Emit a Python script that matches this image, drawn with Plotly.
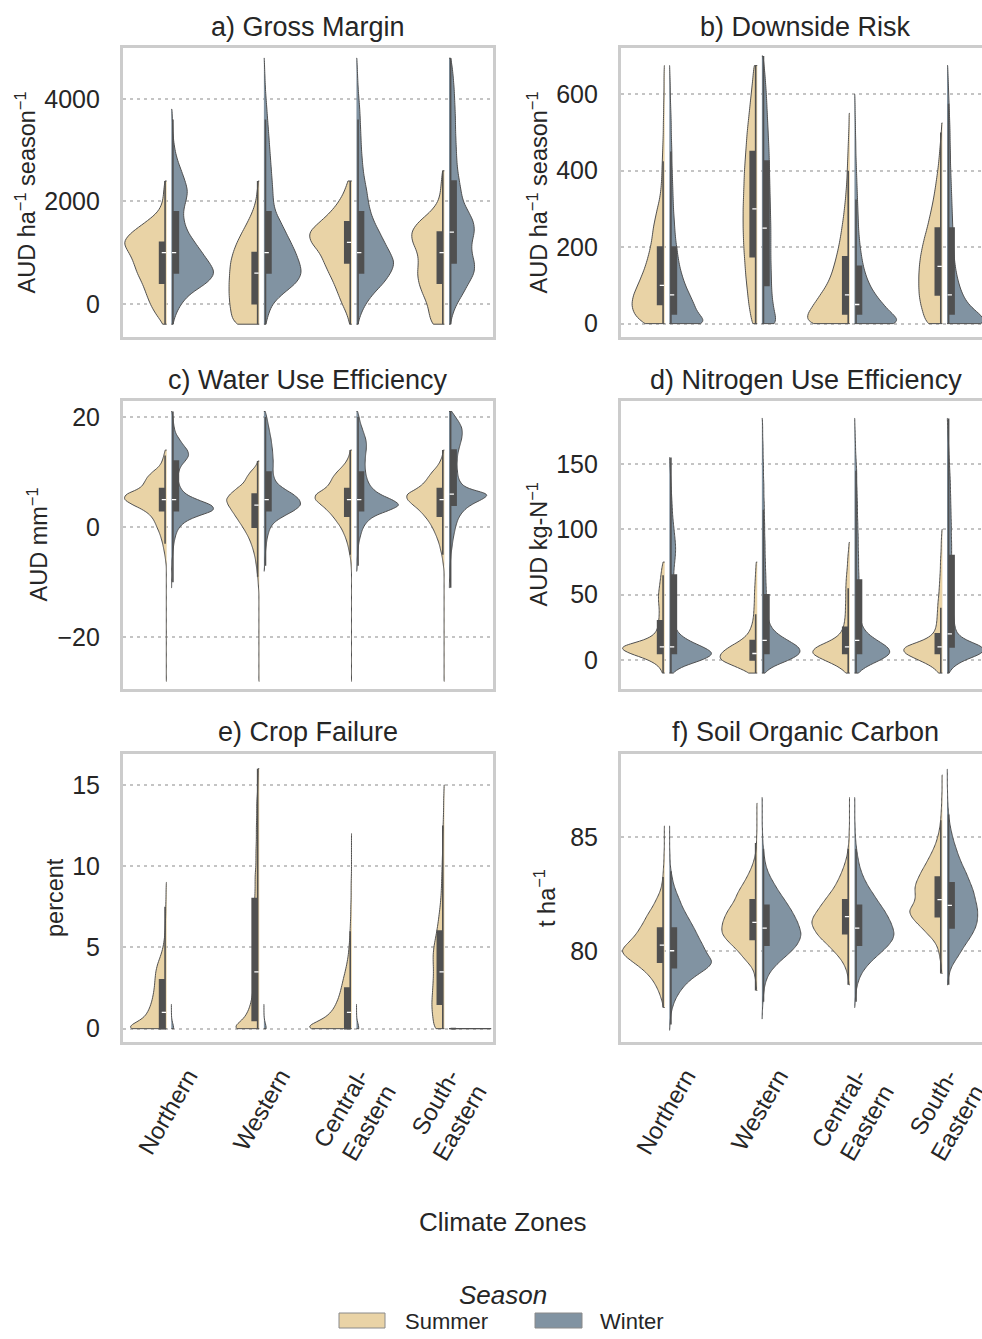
import numpy as np
import plotly.graph_objects as go

ZONES = ["Northern", "Western", "Central-Eastern", "South-Eastern"]
ZONE_LABELS = ["Northern", "Western", "Central-<br>Eastern", "South-<br>Eastern"]
SEASONS = ["Summer", "Winter"]

# ---------------------------------------------------------------------------
# Distributions: for each panel a grid of value levels and,
# per zone, the relative density (violin half-width) observed at each level.
# ---------------------------------------------------------------------------

# a) Gross Margin (AUD ha-1 season-1)
GM_LEVELS = [-400, -200, 0, 200, 400, 600, 800, 1000, 1200, 1400, 1600, 1800, 2000, 2200,
             2400, 2600, 2800, 3000, 3200, 3400, 3600, 3800, 4000, 4200, 4400, 4600, 4800]
GM_SUMMER = {
    "Northern":        [8, 30, 45, 55, 65, 80, 88, 100, 122, 95, 55, 20, 10, 8, 5],
    "Western":         [80, 85, 90, 92, 92, 90, 88, 80, 68, 52, 35, 20, 10, 6, 3],
    "Central-Eastern": [5, 12, 25, 35, 45, 58, 70, 80, 105, 112, 80, 52, 32, 18, 10],
    "South-Eastern":   [35, 40, 45, 58, 68, 72, 68, 70, 85, 90, 70, 35, 15, 10, 8, 5],
}
GM_WINTER = {
    "Northern":        [4, 12, 27, 50, 100, 125, 105, 85, 65, 45, 35, 32, 40, 47, 38, 28, 17,
                        10, 6, 4, 3, 2],
    "Western":         [5, 12, 22, 50, 88, 103, 95, 85, 72, 58, 45, 30, 25, 24, 22, 20, 18, 16,
                        14, 12, 10, 8, 6, 4, 3, 2, 1],
    "Central-Eastern": [3, 10, 22, 40, 65, 82, 93, 80, 67, 55, 42, 33, 28, 25, 20, 16, 14, 12,
                        11, 10, 9, 8, 6, 4, 3, 2, 1],
    "South-Eastern":   [3, 8, 18, 33, 45, 60, 60, 52, 52, 60, 58, 45, 32, 28, 24, 20, 18, 17,
                        16, 15, 15, 14, 13, 12, 10, 8, 4],
}

# b) Downside Risk (AUD ha-1 season-1)
DR_LEVELS = [0, 25, 50, 75, 100, 125, 150, 175, 200, 225, 250, 275, 300, 325, 350, 375, 400,
             425, 450, 475, 500, 525, 550, 575, 600, 625, 650, 675, 700]
DR_SUMMER = {
    "Northern":        [65, 92, 99, 93, 80, 68, 57, 49, 42, 37, 34, 28, 22, 15, 11, 9, 8, 7, 6,
                        5, 4, 4, 3, 3, 2, 2, 2, 1],
    "Western":         [15, 20, 25, 28, 31, 34, 36, 38, 40, 41, 42, 42, 42, 41, 40, 39, 38, 36,
                        34, 32, 30, 27, 24, 21, 18, 15, 12, 10],
    "Central-Eastern": [125, 118, 100, 82, 64, 52, 44, 37, 31, 26, 22, 18, 15, 12, 10, 8, 7, 6,
                        5, 4, 3, 2, 2],
    "South-Eastern":   [60, 70, 80, 86, 87, 87, 85, 81, 74, 66, 56, 48, 40, 33, 27, 22, 17, 13,
                        10, 7, 4, 2],
}
DR_WINTER = {
    "Northern":        [130, 88, 78, 64, 50, 40, 32, 27, 23, 19, 17, 15, 13, 12, 11, 10, 9, 8,
                        8, 7, 6, 6, 5, 4, 3, 3, 2, 1],
    "Western":         [70, 58, 50, 45, 43, 42, 41, 40, 40, 40, 40, 39, 38, 37, 36, 35, 34, 33,
                        32, 30, 28, 26, 24, 22, 20, 17, 14, 10, 5],
    "Central-Eastern": [150, 110, 85, 62, 45, 34, 26, 21, 17, 14, 12, 11, 10, 9, 8, 7, 6, 5, 4,
                        4, 3, 3, 2, 2, 1],
    "South-Eastern":   [130, 95, 62, 46, 36, 29, 24, 21, 19, 18, 17, 16, 15, 14, 13, 12, 11, 10,
                        10, 9, 9, 8, 7, 6, 5, 4, 3, 2],
}

# c) Water Use Efficiency (AUD mm-1), levels -28 ... 21
WUE_LEVELS = list(range(-28, 22))
WUE_SUMMER = {
    "Northern":        [1] * 22 + [3, 5, 8, 11, 15, 20, 27, 33, 42, 60, 92, 120, 115, 72, 62,
                                   55, 40, 20, 12, 8, 4],
    "Western":         [1] * 17 + [2, 3, 4, 6, 8, 10, 13, 17, 22, 28, 36, 45, 55, 65, 75, 85,
                                   92, 80, 62, 42, 35, 25, 10, 3],
    "Central-Eastern": [1] * 21 + [2, 3, 6, 9, 13, 18, 25, 33, 45, 57, 72, 90, 112, 110, 78,
                                   65, 58, 45, 28, 15, 8, 4],
    "South-Eastern":   [1] * 21 + [3, 5, 8, 12, 16, 22, 29, 37, 47, 60, 75, 95, 115, 118, 82,
                                   62, 50, 38, 22, 12, 6, 3],
}
WUE_WINTER = {
    "Northern":        [0] * 17 + [1, 1, 1, 1, 1, 2, 4, 5, 7, 10, 14, 22, 37, 70, 122, 115, 70,
                                   38, 26, 20, 18, 20, 25, 38, 50, 45, 32, 22, 12, 8, 6, 4, 2],
    "Western":         [0] * 20 + [1, 2, 3, 4, 5, 7, 9, 13, 18, 30, 55, 85, 105, 100, 82, 55,
                                   35, 28, 25, 26, 26, 25, 24, 22, 20, 17, 14, 11, 8, 4],
    "Central-Eastern": [0] * 20 + [1, 2, 2, 3, 4, 6, 9, 13, 18, 28, 45, 85, 122, 95, 60, 42,
                                   32, 27, 24, 23, 23, 24, 26, 27, 25, 20, 15, 10, 7, 3],
    "South-Eastern":   [0] * 17 + [1, 1, 2, 2, 3, 4, 5, 7, 9, 11, 14, 17, 21, 27, 38, 55, 85,
                                   112, 45, 30, 24, 22, 21, 21, 22, 25, 29, 33, 35, 34, 27,
                                   17, 7],
}

# d) Nitrogen Use Efficiency (AUD kg-N-1)
NUE_LEVELS = [-10, -5, 0, 5, 10, 15, 20, 25, 30, 35, 40, 45, 50, 55, 60, 65, 70, 75, 80, 85,
              90, 95, 100, 105, 110, 115, 120, 125, 130, 135, 140, 145, 150, 155, 160, 165,
              170, 175, 180, 185]
NUE_SUMMER = {
    "Northern":        [5, 12, 35, 85, 120, 45, 22, 16, 14, 13, 13, 15, 15, 13, 11, 9, 7, 4],
    "Western":         [20, 60, 110, 105, 80, 45, 25, 17, 12, 10, 9, 8, 8, 7, 6, 5, 4, 3],
    "Central-Eastern": [8, 30, 70, 110, 95, 48, 25, 17, 14, 12, 12, 11, 11, 11, 10, 9, 7, 6, 5,
                        3, 2],
    "South-Eastern":   [8, 25, 60, 100, 105, 45, 22, 16, 14, 13, 12, 11, 9, 8, 7, 6, 5, 5, 4, 3,
                        3, 2, 1],
}
NUE_WINTER = {
    "Northern":        [8, 35, 100, 140, 100, 55, 28, 17, 14, 12, 11, 11, 11, 11, 12, 13, 14,
                        16, 18, 19, 18, 16, 14, 12, 10, 9, 8, 7, 6, 5, 4, 3, 2, 1],
    "Western":         [5, 25, 70, 100, 95, 65, 38, 23, 17, 14, 13, 12, 11, 11, 10, 10, 9, 9, 8,
                        8, 8, 7, 7, 7, 6, 6, 6, 5, 5, 5, 4, 4, 4, 3, 3, 3, 2, 2, 2, 1],
    "Central-Eastern": [8, 30, 70, 100, 90, 60, 35, 22, 17, 15, 14, 13, 13, 12, 12, 12, 11, 11,
                        11, 10, 10, 10, 9, 9, 8, 8, 8, 7, 7, 6, 6, 6, 5, 4, 3, 3, 2, 2, 1, 1],
    "South-Eastern":   [5, 20, 55, 120, 125, 60, 32, 26, 23, 21, 19, 17, 17, 16, 16, 16, 16, 15,
                        15, 15, 15, 14, 14, 14, 13, 13, 12, 12, 11, 11, 10, 9, 8, 7, 6, 5, 4,
                        3, 2, 1],
}

# e) Crop Failure (percent)
CF_LEVELS = [0, 0.5, 1, 1.5, 2, 2.5, 3, 3.5, 4, 4.5, 5, 5.5, 6, 6.5, 7, 7.5, 8, 8.5, 9, 9.5,
             10, 10.5, 11, 11.5, 12, 12.5, 13, 13.5, 14, 14.5, 15, 15.5, 16]
CF_SUMMER = {
    "Northern":        [150, 75, 58, 48, 42, 38, 36, 34, 28, 18, 11, 7, 5, 4, 3, 3, 2, 2, 1],
    "Western":         [75, 40, 28, 21, 17, 15, 14, 13, 15, 14, 14, 13, 13, 13, 11, 11, 11, 10,
                        10, 10, 8, 8, 8, 7, 7, 7, 6, 6, 6, 4, 4, 3, 3],
    "Central-Eastern": [160, 85, 58, 45, 36, 30, 25, 19, 14, 10, 8, 6, 5, 4, 3, 3, 2, 2, 2, 1,
                        1, 1, 1, 1, 1],
    "South-Eastern":   [40, 44, 48, 50, 48, 46, 44, 43, 44, 45, 42, 36, 30, 25, 21, 17, 14, 12,
                        11, 10, 9, 8, 7, 7, 6, 5, 4, 3, 3, 2, 1],
}
CF_WINTER = {
    "Northern":        [40, 2, 1, 1],
    "Western":         [40, 2, 1, 1],
    "Central-Eastern": [40, 2, 1, 1],
    "South-Eastern":   [40],
}

# f) Soil Organic Carbon (t ha-1), levels 76.5 ... 88.0 every 0.25
SOC_LEVELS = [76.5, 76.75, 77.0, 77.25, 77.5, 77.75, 78.0, 78.25, 78.5, 78.75, 79.0, 79.25,
              79.5, 79.75, 80.0, 80.25, 80.5, 80.75, 81.0, 81.25, 81.5, 81.75, 82.0, 82.25,
              82.5, 82.75, 83.0, 83.25, 83.5, 83.75, 84.0, 84.25, 84.5, 84.75, 85.0, 85.25,
              85.5, 85.75, 86.0, 86.25, 86.5, 86.75, 87.0, 87.25, 87.5, 87.75, 88.0]
SOC_SUMMER = {
    "Northern":        [0, 0, 0, 0, 3, 7, 12, 18, 26, 36, 50, 68, 90, 112, 125, 110, 94, 80,
                        70, 60, 52, 42, 32, 24, 16, 10, 7, 5, 4, 3, 2, 2, 1, 1, 1, 1, 1],
    "Western":         [0] * 7 + [2, 3, 5, 8, 14, 28, 42, 55, 72, 88, 100, 101, 98, 92, 84,
                                  73, 63, 57, 48, 38, 29, 21, 14, 9, 5, 3, 2, 2, 1, 1, 1, 1,
                                  1, 1],
    "Central-Eastern": [0] * 8 + [2, 4, 7, 12, 20, 32, 47, 62, 80, 94, 104, 110, 104, 93, 82,
                                  70, 58, 46, 37, 29, 22, 16, 11, 7, 5, 3, 2, 2, 1, 1, 1, 1,
                                  1, 1],
    "South-Eastern":   [0] * 10 + [2, 3, 5, 8, 11, 17, 28, 45, 60, 78, 92, 100, 88, 80, 80,
                                   82, 78, 70, 62, 52, 43, 34, 26, 19, 14, 10, 7, 5, 4, 3, 2,
                                   2, 1, 1, 1, 1],
}
SOC_WINTER = {
    "Northern":        [1, 2, 3, 5, 9, 14, 22, 32, 45, 62, 85, 110, 124, 112, 102, 95, 86, 78,
                        70, 61, 52, 43, 35, 29, 22, 16, 11, 8, 5, 3, 2, 2, 1, 1, 1, 1, 1],
    "Western":         [0, 0, 1, 1, 2, 3, 4, 6, 8, 13, 20, 32, 47, 65, 82, 96, 104, 108, 103,
                        98, 90, 82, 72, 62, 51, 41, 32, 23, 16, 11, 8, 6, 4, 3, 2, 2, 1, 1, 1,
                        1, 1, 1],
    "Central-Eastern": [0] * 4 + [1, 2, 3, 5, 8, 13, 20, 31, 45, 62, 80, 96, 108, 112, 108, 102,
                                  94, 85, 74, 63, 53, 42, 33, 25, 19, 14, 11, 8, 6, 4, 3, 2, 2,
                                  1, 1, 1, 1, 1],
    "South-Eastern":   [0] * 8 + [2, 4, 8, 14, 25, 38, 50, 62, 76, 88, 98, 104, 106, 106, 103,
                                  98, 94, 88, 80, 72, 64, 54, 46, 38, 32, 25, 20, 15, 11, 8, 6,
                                  4, 3, 2, 2, 1, 1, 1, 1],
}

PANEL_TITLES = ["a) Gross Margin", "b) Downside Risk", "c) Water Use Efficiency",
                "d) Nitrogen Use Efficiency", "e) Crop Failure", "f) Soil Organic Carbon"]
Y_TITLES = ["AUD ha<sup>\u22121</sup> season<sup>\u22121</sup>",
            "AUD ha<sup>\u22121</sup> season<sup>\u22121</sup>",
            "AUD mm<sup>\u22121</sup>", "AUD kg-N<sup>\u22121</sup>",
            "percent", "t ha<sup>\u22121</sup>"]
Y_TICKS = [[0, 2000, 4000], [0, 200, 400, 600], [-20, 0, 20], [0, 50, 100, 150],
           [0, 5, 10, 15], [80, 85]]
Y_RANGES = [[-650, 5000], [-35, 721], [-29.3, 23.0], [-21.8, 198.7], [-0.82, 16.9],
            [75.98, 88.67]]
PANEL_DATA = [(GM_LEVELS, GM_SUMMER, GM_WINTER), (DR_LEVELS, DR_SUMMER, DR_WINTER),
              (WUE_LEVELS, WUE_SUMMER, WUE_WINTER), (NUE_LEVELS, NUE_SUMMER, NUE_WINTER),
              (CF_LEVELS, CF_SUMMER, CF_WINTER), (SOC_LEVELS, SOC_SUMMER, SOC_WINTER)]
BANDWIDTHS = [130, 16, 0.6, 3.2, 0.32, 0.16]

# ---------------------------------------------------------------------------
# Style
# ---------------------------------------------------------------------------
W, H = 982, 1339
FONT = "Liberation Sans"
TEXT = "#262626"
SUMMER_COLOR = "#E9D3A6"
WINTER_COLOR = "#8193A2"
OUTLINE = "#4f4f4f"
BOXCOL = "#505050"
FRAME = "#cccccc"
GRID = "#c4c4c4"
GAP = 0.025          # half gap between the two halves (category units)
VWIDTH = 0.91        # full violin width (category units)
BOXFRAC = 0.26       # inner box width relative to violin width
BOXW = VWIDTH / 2 * BOXFRAC / 2
# two-line rotated labels hang further right than one-line ones; pull them back
LABEL_NUDGE = [0.0, 0.0, -0.15, -0.17]

X_DOM = [[122.7 / W, 493.0 / W], [620.7 / W, 1.0]]
X_RANGE = [[-0.5, 3.5], [-0.5, 3.403]]
Y_DOM = [[1 - 337.0 / H, 1 - 48.0 / H], [1 - 688.5 / H, 1 - 400.5 / H],
         [1 - 1042.0 / H, 1 - 754.0 / H]]
TITLE_Y = [27, 380, 732]
TITLE_X = [308, 805.5]
YTITLE_X = [25, 537, 37, 537, 55, 545]
PANEL_CY = [192.5, 544.5, 898]


def expand(levels, weights):
    lv = np.asarray(levels[:len(weights)], dtype=float)
    return np.repeat(lv, np.asarray(weights, dtype=int))


def violin(xs, ys, xr, yr, side, color, width, bw, group):
    return go.Violin(
        x=xs, y=ys, xaxis=xr, yaxis=yr, side=side, width=width,
        scalegroup=group, scalemode="width", spanmode="hard", bandwidth=bw,
        points=False, fillcolor=color, line=dict(color=OUTLINE, width=1),
        box=dict(visible=True, width=BOXFRAC, fillcolor=BOXCOL,
                 line=dict(color=BOXCOL, width=1.6)),
        meanline=dict(visible=False), showlegend=False, hoverinfo="skip")


fig = go.Figure()

for k in range(6):
    xr = "x" if k == 0 else f"x{k + 1}"
    yr = "y" if k == 0 else f"y{k + 1}"
    levels, summer, winter = PANEL_DATA[k]
    for season, table, side, color, off in (
            ("Summer", summer, "negative", SUMMER_COLOR, -GAP),
            ("Winter", winter, "positive", WINTER_COLOR, GAP)):
        if k == 4 and season == "Winter":
            # nearly all zero: each drawn on its own
            for i, zone in enumerate(ZONES):
                vals = expand(levels, table[zone])
                if vals.min() == vals.max():
                    fig.add_trace(violin(np.full(len(vals), i + off), vals, xr, yr, side,
                                         color, VWIDTH, None, f"e{i}"))
                else:
                    fig.add_trace(violin(np.full(len(vals), i + off), vals, xr, yr, side,
                                         color, 0.05, BANDWIDTHS[k], f"e{i}"))
            continue
        xs, ys, pos, med = [], [], [], []
        for i, zone in enumerate(ZONES):
            vals = expand(levels, table[zone])
            ys.append(vals)
            xs.append(np.full(len(vals), i + off))
            pos.append(i + off + (BOXW / 2 if off > 0 else -BOXW / 2))
            med.append(float(np.median(vals)))
        fig.add_trace(violin(np.concatenate(xs), np.concatenate(ys), xr, yr, side, color,
                             VWIDTH, BANDWIDTHS[k], f"p{k}{season}"))
        # white median tick inside each inner box
        fig.add_trace(go.Box(
            x=pos, q1=med, median=med, q3=med, lowerfence=med, upperfence=med,
            width=BOXW * 0.8, xaxis=xr, yaxis=yr, boxpoints=False,
            fillcolor="white", line=dict(color="white", width=1.3),
            showlegend=False, hoverinfo="skip"))

layout = dict(
    width=W, height=H, margin=dict(l=0, r=0, t=0, b=0, autoexpand=False),
    paper_bgcolor="white", plot_bgcolor="white",
    font=dict(family=FONT, color=TEXT, size=24),
    violinmode="overlay", boxmode="overlay", showlegend=False,
)
annotations = []
shapes = []
for k in range(6):
    row, col = divmod(k, 2)
    xa = "xaxis" if k == 0 else f"xaxis{k + 1}"
    ya = "yaxis" if k == 0 else f"yaxis{k + 1}"
    layout[xa] = dict(
        domain=X_DOM[col], range=X_RANGE[col], type="linear", automargin=False,
        anchor="y" if k == 0 else f"y{k + 1}",
        showgrid=False, zeroline=False, showline=True, mirror=True,
        linecolor=FRAME, linewidth=2.5, ticks="",
        tickvals=[i + LABEL_NUDGE[i] for i in range(len(ZONES))], ticktext=ZONE_LABELS,
        showticklabels=(row == 2), tickangle=-60,
        tickfont=dict(size=24, color=TEXT, family=FONT),
        ticklabelshift=19, ticklabelstandoff=8, ticklabeloverflow="allow",
    )
    layout[ya] = dict(
        domain=Y_DOM[row], range=Y_RANGES[k], automargin=False,
        anchor="x" if k == 0 else f"x{k + 1}",
        showgrid=True, gridcolor=GRID, gridwidth=1.8, griddash="3px,4px",
        zeroline=False, showline=True, mirror=(col == 0),
        linecolor=FRAME, linewidth=2.5, ticks="",
        tickvals=Y_TICKS[k], tickfont=dict(size=25, color=TEXT, family=FONT),
        ticklabelstandoff=15,
    )
    annotations.append(dict(
        text=PANEL_TITLES[k], x=TITLE_X[col] / W, y=1 - TITLE_Y[row] / H,
        xref="paper", yref="paper", xanchor="center", yanchor="middle",
        showarrow=False, font=dict(size=27, color=TEXT, family=FONT)))
    annotations.append(dict(
        text=Y_TITLES[k], x=YTITLE_X[k] / W, y=1 - PANEL_CY[row] / H,
        xref="paper", yref="paper", xanchor="center", yanchor="middle",
        textangle=-90, showarrow=False,
        font=dict(size=23.5, color=TEXT, family=FONT)))

annotations.append(dict(
    text="Climate Zones", x=503 / W, y=1 - 1222 / H, xref="paper", yref="paper",
    xanchor="center", yanchor="middle", showarrow=False,
    font=dict(size=26, color=TEXT, family=FONT)))

# legend (Season)
annotations.append(dict(
    text="Season", x=503 / W, y=1 - 1295 / H, xref="paper", yref="paper",
    xanchor="center", yanchor="middle", showarrow=False,
    font=dict(size=26, color=TEXT, family=FONT, style="italic")))
for season, color, x0, x1, tx in (("Summer", SUMMER_COLOR, 339, 385, 403),
                                  ("Winter", WINTER_COLOR, 535, 582, 598)):
    shapes.append(dict(type="rect", xref="paper", yref="paper",
                       x0=x0 / W, x1=x1 / W, y0=1 - 1328 / H, y1=1 - 1313 / H,
                       fillcolor=color, line=dict(color="#8a8a8a", width=1)))
    annotations.append(dict(
        text=season, x=tx / W, y=1 - 1321 / H, xref="paper", yref="paper",
        xanchor="left", yanchor="middle", showarrow=False,
        font=dict(size=22, color=TEXT, family=FONT)))

layout["annotations"] = annotations
layout["shapes"] = shapes
fig.update_layout(**layout)
fig.write_html("out.html", config={"displayModeBar": False},
               post_script="document.body.style.margin='0';"
                           "document.body.style.overflow='hidden';")
